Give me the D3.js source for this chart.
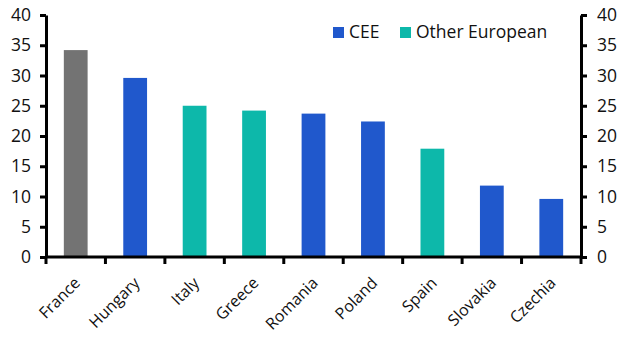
<!DOCTYPE html>
<html><head><meta charset="utf-8">
<script src="https://cdn.jsdelivr.net/npm/d3@7"></script>
<style>body{margin:0;background:#fff}svg{display:block}</style>
</head><body>
<script>
const categories = ["France","Hungary","Italy","Greece","Romania","Poland","Spain","Slovakia","Czechia"];
const values = [34.2, 29.6, 25.0, 24.2, 23.7, 22.4, 17.9, 11.8, 9.6];
const groups = ["Other","CEE","Other European","Other European","CEE","CEE","Other European","CEE","CEE"];
const yTicks = [0,5,10,15,20,25,30,35,40];
const legendItems = ["CEE","Other European"];
const colors = {"Other":"#737373","CEE":"#2058CC","Other European":"#0DB8AA"};

const W=630,H=355;
const m={l:46,r:49,t:15,b:98};
const font='"Open Sans", sans-serif';
const svg=d3.select("body").append("svg").attr("width",W).attr("height",H);
const x=d3.scaleBand().domain(categories).range([m.l,W-m.r]).paddingInner(0.6).paddingOuter(0.3);
const y=d3.scaleLinear().domain([0,40]).range([H-m.b,m.t]);

svg.selectAll("rect.bar").data(categories).join("rect")
  .attr("x",d=>x(d)).attr("width",x.bandwidth())
  .attr("y",(d,i)=>y(values[i])).attr("height",(d,i)=>y(0)-y(values[i]))
  .attr("fill",(d,i)=>colors[groups[i]]);

function styleAxis(g){
  g.selectAll("path,line").attr("stroke","#000").attr("stroke-width",3);
  g.selectAll("text").attr("font-family",font).attr("font-size",17.5).attr("fill","#111");
}
const yl=svg.append("g").attr("transform",`translate(${m.l},0)`)
  .call(d3.axisLeft(y).tickValues(yTicks).tickSize(6).tickSizeOuter(0).tickPadding(9));
styleAxis(yl);
const yr=svg.append("g").attr("transform",`translate(${W-m.r},0)`)
  .call(d3.axisRight(y).tickValues(yTicks).tickSize(6).tickSizeOuter(0).tickPadding(10));
styleAxis(yr);

// x axis: baseline with ticks at band boundaries
const xg=svg.append("g");
const bounds=d3.range(categories.length+1).map(i=>m.l+i*(W-m.l-m.r)/categories.length);
xg.append("line").attr("x1",m.l).attr("x2",W-m.r).attr("y1",y(0)).attr("y2",y(0))
  .attr("stroke","#000").attr("stroke-width",3);
xg.selectAll("line.t").data(bounds).join("line").attr("class","t")
  .attr("x1",d=>d).attr("x2",d=>d).attr("y1",y(0)).attr("y2",y(0)+7)
  .attr("stroke","#000").attr("stroke-width",3);
xg.selectAll("text").data(categories).join("text")
  .attr("transform",d=>`translate(${x(d)+x.bandwidth()/2+5.5},${y(0)+27}) rotate(-45)`)
  .attr("text-anchor","end")
  .attr("font-family",font).attr("font-size",16).attr("fill","#111").text(d=>d);

// legend
const lg=svg.append("g");
const lx=[333,400];
legendItems.forEach((k,i)=>{
  lg.append("rect").attr("x",lx[i]).attr("y",27).attr("width",11).attr("height",11).attr("fill",colors[k]);
  lg.append("text").attr("x",lx[i]+16).attr("y",38).attr("font-family",font).attr("font-size",17.5).attr("fill","#111").text(k);
});
</script>
</body></html>
